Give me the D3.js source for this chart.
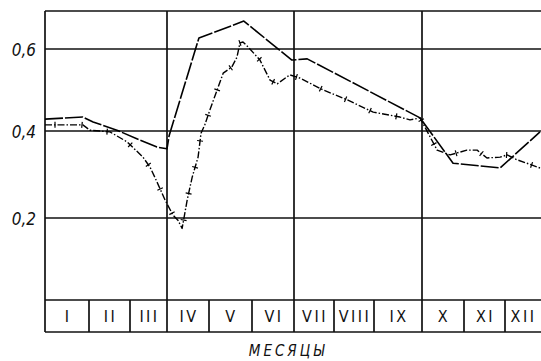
<!DOCTYPE html>
<html>
<head>
<meta charset="utf-8">
<script src="https://cdn.jsdelivr.net/npm/d3@7"></script>
<style>
  html, body { margin: 0; padding: 0; background: #fff; }
  svg { display: block; }
  text { font-family: "DejaVu Sans Condensed", "DejaVu Sans", sans-serif; font-style: italic; fill: #111; }
</style>
</head>
<body>
<svg id="chart" width="541" height="361"></svg>
<script>
// Month labels for the strip under the plot
const months = ["I", "II", "III", "IV", "V", "VI", "VII", "VIII", "IX", "X", "XI", "XII"];
// Value gridlines and their labels
const yTicks = [0.2, 0.4, 0.6];
// Quarter boundaries (in months) drawn as full-height gridlines
const quarterEdges = [0, 3, 6, 9, 12];

// Series A (solid): position in months since 1 Jan, and value
const seriesAMonth = [0, 0.86, 1.10, 1.68, 2.27, 2.73, 3.0, 3.05, 3.76, 4.81, 5.95, 6.33, 8.96, 9.74, 10.88, 12];
const seriesAValue = [0.429, 0.434, 0.422, 0.402, 0.379, 0.363, 0.359, 0.389, 0.627, 0.668, 0.573, 0.576, 0.432, 0.326, 0.315, 0.398];

// Series B (dash-dot with cross ticks)
const seriesBMonth = [0, 0.86, 1.02, 1.51, 1.93, 2.35, 2.54, 2.68, 2.95, 3.14, 3.26, 3.36, 3.48, 3.60, 3.74, 3.81, 3.90, 4.02,
  4.33, 4.53, 4.65, 4.72, 4.79, 4.91, 5.19, 5.43, 5.60, 5.90, 6.15, 6.73, 7.33, 7.98, 8.54, 8.75, 8.96,
  9.36, 9.67, 10.07, 10.32, 10.56, 10.88, 11.06, 11.34, 12];
const seriesBValue = [0.415, 0.415, 0.402, 0.398, 0.375, 0.340, 0.317, 0.292, 0.241, 0.207, 0.195, 0.176, 0.241, 0.294, 0.340, 0.395, 0.415, 0.451,
  0.541, 0.556, 0.580, 0.615, 0.617, 0.605, 0.573, 0.524, 0.515, 0.537, 0.529, 0.500, 0.476, 0.446, 0.434, 0.427, 0.432,
  0.356, 0.345, 0.356, 0.356, 0.338, 0.340, 0.345, 0.334, 0.315];

const svg = d3.select("#chart");

// Hand-ruled month grid: cell edges are not perfectly even
const x = d3.scaleLinear()
  .domain(d3.range(13))
  .range([45, 89, 130, 167, 209, 252, 294, 334, 374, 422, 464, 505, 540]);
const y = d3.scaleLinear()
  .domain([0.2, 0.4, 0.6])
  .range([218, 131, 49]);

const plotTop = 11, plotBottom = 300, stripBottom = 332, plotRight = 541;
const gridColor = "#111";

const grid = svg.append("g").attr("stroke", gridColor).attr("stroke-width", 1.7).attr("fill", "none");

// frame top
grid.append("line").attr("x1", x(0)).attr("x2", plotRight).attr("y1", plotTop).attr("y2", plotTop);
// horizontal value gridlines
grid.selectAll(".hy").data(yTicks).join("line")
  .attr("x1", x(0)).attr("x2", plotRight)
  .attr("y1", d => y(d)).attr("y2", d => y(d));
// strip top and bottom
grid.append("line").attr("x1", x(0)).attr("x2", plotRight).attr("y1", plotBottom).attr("y2", plotBottom);
grid.append("line").attr("x1", x(0)).attr("x2", plotRight).attr("y1", stripBottom).attr("y2", stripBottom);
// left frame edge and quarter lines through the whole height
grid.selectAll(".qv").data(quarterEdges.slice(0, 4)).join("line")
  .attr("x1", d => x(d)).attr("x2", d => x(d))
  .attr("y1", plotTop).attr("y2", stripBottom);
// month dividers inside the strip
grid.selectAll(".mv").data(d3.range(1, 12).filter(d => d % 3 !== 0)).join("line")
  .attr("x1", d => x(d)).attr("x2", d => x(d))
  .attr("y1", plotBottom).attr("y2", stripBottom);

// y labels with a decimal comma
const fmt = d3.formatLocale({ decimal: ",", thousands: " ", grouping: [3], currency: ["", ""] }).format(".1f");
svg.selectAll(".ylab").data(yTicks).join("text")
  .attr("x", 36).attr("y", d => y(d) + 2)
  .attr("text-anchor", "end").attr("dominant-baseline", "middle")
  .style("font-size", "17px")
  .text(d => fmt(d));

// month names in the strip
svg.selectAll(".mlab").data(months).join("text")
  .attr("x", (d, i) => (x(i) + x(i + 1)) / 2 + 1)
  .attr("y", (plotBottom + stripBottom) / 2 + 1)
  .attr("text-anchor", "middle").attr("dominant-baseline", "middle")
  .style("font-size", "16px").style("font-style", "normal").style("letter-spacing", "2.5px")
  .text(d => d);

// axis title
svg.append("text")
  .attr("x", 288).attr("y", 351)
  .attr("text-anchor", "middle").attr("dominant-baseline", "middle")
  .style("font-size", "15px").style("letter-spacing", "3px")
  .text("МЕСЯЦЫ");

const line = d3.line().x(d => x(d[0])).y(d => y(d[1]));
const dataA = d3.zip(seriesAMonth, seriesAValue);
const dataB = d3.zip(seriesBMonth, seriesBValue);

svg.append("path").datum(dataA)
  .attr("d", line)
  .attr("fill", "none").attr("stroke", "#000").attr("stroke-width", 1.6)
  .attr("stroke-dasharray", "18,2").attr("stroke-linejoin", "round");

const pathB = svg.append("path").datum(dataB)
  .attr("d", line)
  .attr("fill", "none").attr("stroke", "#000").attr("stroke-width", 1.4)
  .attr("stroke-dasharray", "7,2,1.5,2").attr("stroke-linejoin", "round");

// small cross ticks spaced along series B
const node = pathB.node();
const total = node.getTotalLength();
const ticks = [];
for (let s = 10; s < total - 5; s += 27) {
  const p = node.getPointAtLength(s);
  const q = node.getPointAtLength(Math.min(total, s + 1));
  const dx = q.x - p.x, dy = q.y - p.y, len = Math.hypot(dx, dy) || 1;
  ticks.push({ x: p.x, y: p.y, nx: -dy / len, ny: dx / len });
}
svg.append("g").attr("stroke", "#000").attr("stroke-width", 1.2)
  .selectAll("line").data(ticks).join("line")
  .attr("x1", d => d.x - d.nx * 3).attr("y1", d => d.y - d.ny * 3)
  .attr("x2", d => d.x + d.nx * 3).attr("y2", d => d.y + d.ny * 3);
</script>
</body>
</html>
